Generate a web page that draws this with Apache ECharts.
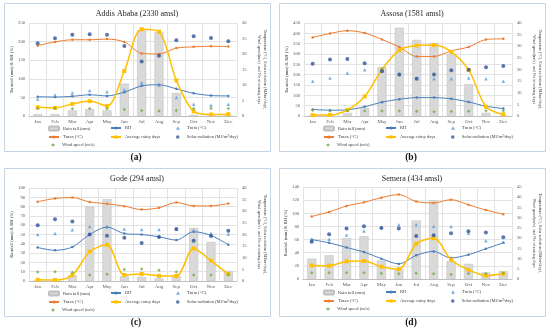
<!DOCTYPE html>
<html><head><meta charset="utf-8">
<script src="https://cdn.jsdelivr.net/npm/echarts@6/dist/echarts.min.js"></script>
<style>html,body{margin:0;padding:0;background:#fff}#c{width:550px;height:335px}</style>
</head><body><div id="c"></div>
<script>
const months = ['Jan','Feb','Mar','Apr','May','Jun','Jul','Aug','Sep','Oct','Nov','Dec'];
const seriesNames = ['Rain fall (mm)','RH','Tmin (°C)','Tmax (°C)','Average rainy days','Solar radiation (MJ/m²/day)','Wind speed (m/s)'];
const stationTitles = ['Addis Ababa (2330 amsl)','Assosa (1581 amsl)','Gode (294 amsl)','Semera (434 amsl)'];
const panelLabels = ['(a)','(b)','(c)','(d)'];

// Addis Ababa
const addisRain  = [5, 5, 15, 18, 15, 87, 230, 226, 62, 3, 0, 0];
const addisRH    = [52, 51, 53, 57, 54, 64, 81, 84, 73, 61, 55, 54];
const addisTmin  = [5.5, 6.8, 7.5, 8.2, 7.8, 8.5, 10.7, 10.0, 6.0, 3.8, 3.5, 3.8];
const addisTmax  = [22.7, 23.9, 24.6, 24.6, 24.8, 23.9, 20.2, 20.0, 21.9, 22.3, 22.5, 22.4];
const addisDays  = [2.8, 2.6, 3.9, 4.8, 3.2, 14.5, 28.0, 27.2, 11.5, 1.5, 0.5, 0.6];
const addisSolar = [23.5, 25.1, 26.2, 26.4, 26.2, 22.6, 17.6, 19.4, 24.4, 25.7, 25.2, 24.1];
const addisWind  = [2.4, 2.5, 2.3, 2.4, 2.3, 2.1, 1.8, 1.6, 1.8, 2.4, 2.4, 2.4];

// Assosa
const assosaRain  = [0, 0, 15, 39, 237, 427, 368, 353, 300, 154, 15, 0];
const assosaRH    = [32, 28, 30, 45, 67, 81, 89, 89, 83, 68, 47, 36];
const assosaTmin  = [14.9, 16.3, 18.5, 19.9, 20.3, 17.9, 16.3, 16.0, 16.0, 16.3, 16.0, 14.9];
const assosaTmax  = [33.8, 35.5, 36.7, 35.7, 32.9, 29.7, 25.6, 25.6, 28.0, 29.7, 32.9, 33.2];
const assosaDays  = [0.4, 0.4, 2.6, 8.4, 20.0, 28.3, 30.3, 30.5, 27.6, 19.8, 4.0, 0.7];
const assosaSolar = [22.5, 24.3, 24.5, 22.7, 19.2, 17.9, 16.0, 17.9, 19.7, 19.9, 21.0, 21.5];
const assosaWind  = [2.5, 2.2, 2.3, 2.2, 2.2, 2.1, 2.0, 1.8, 1.9, 2.0, 2.3, 2.3];

// Gode
const godeRain  = [0, 0, 6, 80, 88, 5, 4.5, 2.8, 5, 57, 42, 11];
const godeRH    = [36, 33, 36.5, 50, 58, 51, 50, 47.5, 44, 53, 49, 39];
const godeTmin  = [20.0, 20.4, 22.0, 23.4, 23.3, 22.4, 22.1, 22.2, 22.3, 21.8, 20.5, 20.2];
const godeTmax  = [34.1, 35.5, 35.9, 34.0, 33.2, 32.2, 30.7, 31.5, 33.8, 32.3, 32.3, 33.3];
const godeDays  = [0.5, 0.4, 2.5, 12.6, 15.6, 2.6, 3.0, 2.2, 2.1, 14.0, 8.7, 3.0];
const godeSolar = [24.0, 26.6, 25.6, 20.0, 19.5, 18.6, 16.3, 18.9, 22.4, 17.3, 19.4, 21.6];
const godeWind  = [3.9, 4.0, 3.7, 2.6, 2.9, 4.9, 5.2, 4.6, 3.9, 2.6, 2.6, 2.7];

// Semera
const semeraRain  = [31, 36, 62, 65, 28, 15, 89, 120, 27, 23, 10, 12];
const semeraRH    = [60, 55, 48, 41, 31, 23, 36, 42, 32, 37, 46, 55];
const semeraTmin  = [18.9, 19.4, 21.5, 23.5, 25.3, 26.5, 26.5, 25.8, 25.7, 22.4, 18.7, 18.0];
const semeraTmax  = [30.6, 32.8, 35.7, 37.5, 39.8, 41.3, 37.9, 37.2, 38.8, 36.3, 33.7, 31.7];
const semeraDays  = [6.6, 6.5, 8.6, 8.8, 6.0, 4.8, 17.2, 20.0, 9.4, 4.5, 1.7, 2.6];
const semeraSolar = [18.2, 21.9, 24.7, 25.8, 25.0, 24.7, 21.0, 21.4, 22.4, 23.3, 22.7, 20.4];
const semeraWind  = [3.1, 3.1, 3.1, 3.0, 2.8, 2.6, 2.8, 2.6, 2.2, 2.7, 2.7, 2.8];

const leftMaxes = [250, 450, 100, 140];
const leftSteps = [50, 50, 10, 20];
const rightMaxes = [30, 40, 40, 45];
const rightSteps = [5, 5, 5, 5];

const panelData = [
  [addisRain, addisRH, addisTmin, addisTmax, addisDays, addisSolar, addisWind],
  [assosaRain, assosaRH, assosaTmin, assosaTmax, assosaDays, assosaSolar, assosaWind],
  [godeRain, godeRH, godeTmin, godeTmax, godeDays, godeSolar, godeWind],
  [semeraRain, semeraRH, semeraTmin, semeraTmax, semeraDays, semeraSolar, semeraWind]
];

const SERIF = "'Liberation Serif','Times New Roman',serif";
const TXT = '#404040';
const offsets = [[0,0],[275,0],[0,165],[275,165]];
const grids = [
  {left: 29, top: 23, width: 208, height: 93},
  {left: 304, top: 23, width: 208, height: 93},
  {left: 29, top: 188, width: 208, height: 93},
  {left: 303, top: 187, width: 209, height: 92}
];
const legendRows = [[125.5, 134.5, 142.5], [125.5, 134.5, 142.5], [290.5, 299.5, 307.5], [289.5, 298.5, 306.5]];
const C = {rain:'#d9d9d9', rainB:'#bfbfbf', rh:'#4a7ebb', tmin:'#5b9bd5', tmax:'#ed7d31', days:'#ffc000', solar:'#2f5597', wind:'#70ad47'};

const option = {
  animation: false,
  backgroundColor: '#fff',
  grid: [], xAxis: [], yAxis: [], series: [], legend: [], graphic: []
};

for (let p = 0; p < 4; p++) {
  const [ox, oy] = offsets[p];
  const g = grids[p];
  option.grid.push(Object.assign({containLabel: false}, g));
  option.xAxis.push({
    type: 'category', gridIndex: p, data: months, boundaryGap: true,
    axisLine: {lineStyle: {color: '#bfbfbf', width: 1}},
    axisTick: {show: false},
    axisLabel: {fontSize: 5, color: '#595959', fontFamily: SERIF, margin: 3, interval: 0},
    splitLine: {show: true, lineStyle: {color: '#e3e3e3', width: 1}}
  });
  option.yAxis.push({
    type: 'value', gridIndex: p, min: 0, max: leftMaxes[p], interval: leftSteps[p], position: 'left',
    name: 'Rainfall (mm) & RH (%)', nameLocation: 'middle', nameRotate: 90, nameGap: 13,
    nameTextStyle: {fontSize: 4.6, color: TXT, fontFamily: SERIF},
    axisLine: {show: false}, axisTick: {show: false},
    axisLabel: {fontSize: 4.6, color: '#595959', fontFamily: SERIF, margin: 4},
    splitLine: {show: true, lineStyle: {color: '#e3e3e3', width: 1}}
  });
  option.yAxis.push({
    type: 'value', gridIndex: p, min: 0, max: rightMaxes[p], interval: rightSteps[p], position: 'right',
    name: 'Temperature (°C), Solar radiation (MJ/m²/day),\nWind speed(m/s)  and No of raining days',
    nameLocation: 'middle', nameRotate: -90, nameGap: 19,
    nameTextStyle: {fontSize: 4.2, color: TXT, fontFamily: SERIF, lineHeight: 6},
    axisLine: {show: false}, axisTick: {show: false},
    axisLabel: {fontSize: 4.6, color: '#595959', fontFamily: SERIF, margin: 5},
    splitLine: {show: false}
  });
  const d = panelData[p];
  const L = 2*p, R = 2*p+1;
  option.series.push(
    {name: seriesNames[0], type: 'bar', xAxisIndex: p, yAxisIndex: L, data: d[0], barWidth: '52%', z: 1,
     itemStyle: {color: C.rain, borderColor: C.rainB, borderWidth: 0.5}},
    {name: seriesNames[1], type: 'line', xAxisIndex: p, yAxisIndex: L, data: d[1], smooth: 0.3, z: 3,
     symbol: 'circle', symbolSize: 2.5, lineStyle: {color: C.rh, width: 1}, itemStyle: {color: C.rh}},
    {name: seriesNames[2], type: 'scatter', xAxisIndex: p, yAxisIndex: R, data: d[2], z: 4,
     symbol: 'triangle', symbolSize: 3.5, itemStyle: {color: C.tmin}},
    {name: seriesNames[3], type: 'line', xAxisIndex: p, yAxisIndex: R, data: d[3], smooth: 0.3, z: 3,
     symbol: 'circle', symbolSize: 2.5, lineStyle: {color: C.tmax, width: 1}, itemStyle: {color: C.tmax}},
    {name: seriesNames[4], type: 'line', xAxisIndex: p, yAxisIndex: R, data: d[4], smooth: 0.3, z: 3,
     symbol: 'rect', symbolSize: 4, lineStyle: {color: C.days, width: 1.5}, itemStyle: {color: C.days}},
    {name: seriesNames[5], type: 'scatter', xAxisIndex: p, yAxisIndex: R, data: d[5], z: 4,
     symbol: 'circle', symbolSize: 4, itemStyle: {color: C.solar}},
    {name: seriesNames[6], type: 'scatter', xAxisIndex: p, yAxisIndex: R, data: d[6], z: 4,
     symbol: 'diamond', symbolSize: 3.5, itemStyle: {color: C.wind}}
  );
  const colX = [48, 110, 173];
  const rowY = legendRows[p];
  const order = [[0,0],[1,0],[2,0],[0,1],[1,1],[2,1],[0,2]];
  for (let k = 0; k < 7; k++) {
    const [cx, ry] = order[k];
    const scatterLike = (k === 2 || k === 5 || k === 6);
    option.legend.push({
      data: [seriesNames[k]], left: ox + colX[cx] + (scatterLike ? 3 : 0), top: rowY[ry],
      padding: 0, itemWidth: scatterLike ? 4 : 10, itemHeight: scatterLike ? 3.5 : 4, itemGap: 0, selectedMode: false,
      textStyle: {fontSize: 4.6, color: TXT, fontFamily: SERIF, padding: [0,0,0, scatterLike ? 2 : -1]}
    });
  }
  option.graphic.push({
    type: 'rect', silent: true, z: -10,
    shape: {x: ox + 4.5, y: oy + 3.5, width: 266, height: 148},
    style: {fill: 'none', stroke: '#c5d3e8', lineWidth: 1}
  });
  option.graphic.push({
    type: 'text', silent: true,
    style: {x: ox + 137, y: oy + 14, text: stationTitles[p], textAlign: 'center', textVerticalAlign: 'middle',
            font: "8px 'Liberation Serif', serif", fill: '#262626'}
  });
  option.graphic.push({
    type: 'text', silent: true,
    style: {x: ox + 136, y: oy + 158, text: panelLabels[p], textAlign: 'center', textVerticalAlign: 'middle',
            font: "bold 9.5px 'Liberation Serif', serif", fill: '#111'}
  });
}

const chart = echarts.init(document.getElementById('c'), null, {renderer: 'canvas'});
chart.setOption(option);
</script>
</body></html>
